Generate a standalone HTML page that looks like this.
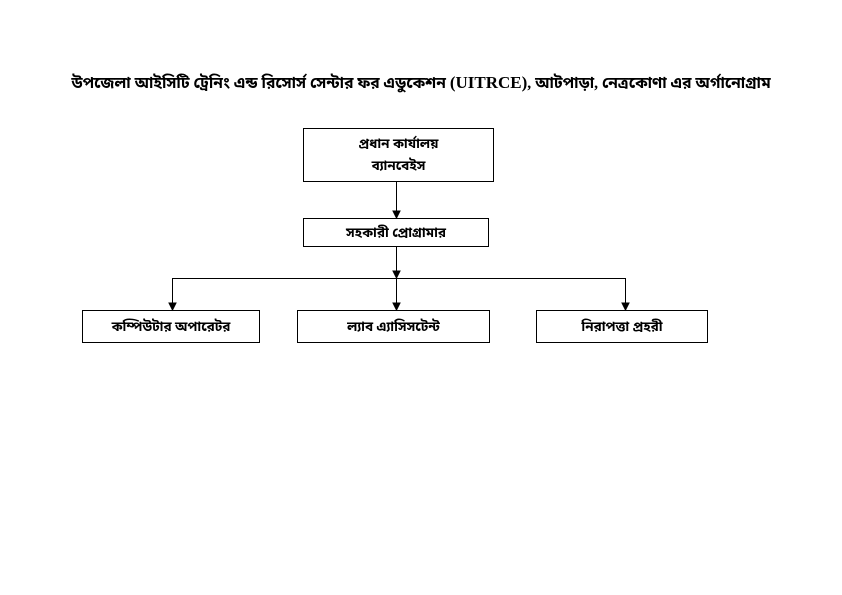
<!DOCTYPE html>
<html><head><meta charset="utf-8"><style>
body{margin:0;width:842px;height:595px;background:#fff;position:relative;overflow:hidden;font-family:"Liberation Serif","Noto Sans Bengali","Lohit Bengali","FreeSerif",serif;font-weight:bold;color:#000}
.b{position:absolute;border:1px solid #000;box-sizing:border-box;display:flex;align-items:center;justify-content:center;text-align:center;font-size:13.5px;line-height:22px}
.t{position:absolute;left:0;width:842px;top:73px;text-align:center;font-size:15.6px;white-space:nowrap}
</style></head><body>
<div class="t">উপজেলা আইসিটি ট্রেনিং এন্ড রিসোর্স সেন্টার ফর এডুকেশন <span style="font-size:17px">(UITRCE)</span>, আটপাড়া, নেত্রকোণা এর অর্গানোগ্রাম</div>
<div class="b" style="left:303px;top:128px;width:191px;height:54px">প্রধান কার্যালয়<br>ব্যানবেইস</div>
<div class="b" style="left:303px;top:218px;width:186px;height:29px">সহকারী প্রোগ্রামার</div>
<div class="b" style="left:82px;top:310px;width:178px;height:33px">কম্পিউটার অপারেটর</div>
<div class="b" style="left:297px;top:310px;width:193px;height:33px">ল্যাব এ্যাসিসটেন্ট</div>
<div class="b" style="left:536px;top:310px;width:172px;height:33px">নিরাপত্তা প্রহরী</div>
<svg width="842" height="595" style="position:absolute;left:0;top:0" fill="none" stroke="#000" stroke-width="1">
<line x1="396.5" y1="182" x2="396.5" y2="212"/><polygon points="393,211 400,211 396.5,218" fill="#000"/>
<line x1="396.5" y1="247" x2="396.5" y2="272"/><polygon points="393,271 400,271 396.5,278" fill="#000"/>
<line x1="172.5" y1="278.5" x2="625.5" y2="278.5"/>
<line x1="172.5" y1="278" x2="172.5" y2="304"/><polygon points="169,303 176,303 172.5,310" fill="#000"/>
<line x1="396.5" y1="278" x2="396.5" y2="304"/><polygon points="393,303 400,303 396.5,310" fill="#000"/>
<line x1="625.5" y1="278" x2="625.5" y2="304"/><polygon points="622,303 629,303 625.5,310" fill="#000"/>
</svg>
</body></html>
